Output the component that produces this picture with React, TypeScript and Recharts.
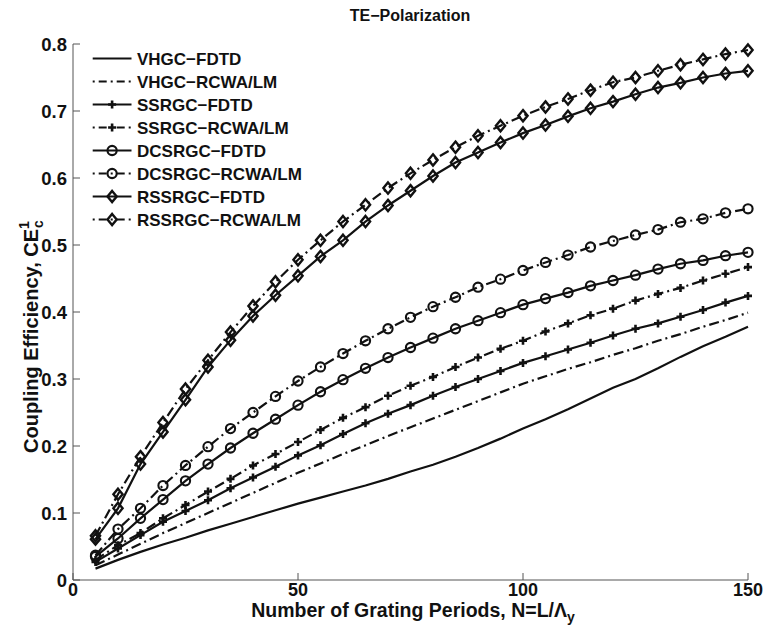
import React from 'react';
import { LineChart, Line, XAxis, YAxis } from 'recharts';

const periods = [5, 10, 15, 20, 25, 30, 35, 40, 45, 50, 55, 60, 65, 70, 75, 80, 85, 90, 95, 100, 105, 110, 115, 120, 125, 130, 135, 140, 145, 150];

const vhgcFdtd = [0.017, 0.030, 0.042, 0.053, 0.063, 0.074, 0.084, 0.094, 0.104, 0.114, 0.123, 0.132, 0.141, 0.151, 0.162, 0.172, 0.184, 0.197, 0.211, 0.226, 0.240, 0.255, 0.271, 0.287, 0.300, 0.316, 0.333, 0.349, 0.363, 0.378];
const vhgcRcwa = [0.022, 0.038, 0.054, 0.070, 0.085, 0.100, 0.115, 0.130, 0.145, 0.160, 0.174, 0.188, 0.201, 0.215, 0.228, 0.241, 0.254, 0.267, 0.280, 0.293, 0.304, 0.315, 0.325, 0.336, 0.346, 0.357, 0.367, 0.378, 0.388, 0.399];
const ssrgcFdtd = [0.027, 0.047, 0.067, 0.087, 0.103, 0.119, 0.137, 0.153, 0.169, 0.186, 0.201, 0.218, 0.234, 0.248, 0.261, 0.275, 0.288, 0.300, 0.312, 0.324, 0.334, 0.344, 0.354, 0.365, 0.375, 0.383, 0.393, 0.403, 0.414, 0.424];
const ssrgcRcwa = [0.030, 0.052, 0.070, 0.092, 0.112, 0.132, 0.151, 0.171, 0.188, 0.206, 0.224, 0.242, 0.258, 0.275, 0.290, 0.303, 0.318, 0.332, 0.345, 0.357, 0.371, 0.383, 0.395, 0.405, 0.417, 0.427, 0.436, 0.447, 0.457, 0.467];
const dcsrgcFdtd = [0.035, 0.062, 0.092, 0.120, 0.148, 0.173, 0.197, 0.219, 0.240, 0.261, 0.281, 0.299, 0.316, 0.332, 0.347, 0.361, 0.375, 0.387, 0.399, 0.411, 0.420, 0.429, 0.439, 0.447, 0.455, 0.464, 0.472, 0.477, 0.484, 0.489];
const dcsrgcRcwa = [0.037, 0.076, 0.107, 0.141, 0.171, 0.199, 0.226, 0.250, 0.274, 0.297, 0.318, 0.338, 0.357, 0.375, 0.392, 0.408, 0.422, 0.437, 0.449, 0.462, 0.474, 0.485, 0.497, 0.506, 0.515, 0.523, 0.534, 0.539, 0.548, 0.554];
const rssrgcFdtd = [0.061, 0.107, 0.173, 0.221, 0.269, 0.318, 0.358, 0.394, 0.425, 0.454, 0.483, 0.507, 0.535, 0.559, 0.581, 0.603, 0.623, 0.638, 0.653, 0.667, 0.679, 0.692, 0.704, 0.714, 0.725, 0.735, 0.742, 0.750, 0.756, 0.760];
const rssrgcRcwa = [0.066, 0.128, 0.184, 0.235, 0.285, 0.328, 0.370, 0.409, 0.445, 0.478, 0.507, 0.535, 0.560, 0.585, 0.607, 0.627, 0.646, 0.663, 0.678, 0.693, 0.706, 0.718, 0.731, 0.743, 0.750, 0.760, 0.769, 0.777, 0.785, 0.791];

const xTicks = [0, 50, 100, 150];
const yTicks = [0, 0.1, 0.2, 0.3, 0.4, 0.5, 0.6, 0.7, 0.8];
const yTickLabels = ['0', '0.1', '0.2', '0.3', '0.4', '0.5', '0.6', '0.7', '0.8'];

const seriesNames = ['VHGC−FDTD', 'VHGC−RCWA/LM', 'SSRGC−FDTD', 'SSRGC−RCWA/LM', 'DCSRGC−FDTD', 'DCSRGC−RCWA/LM', 'RSSRGC−FDTD', 'RSSRGC−RCWA/LM'];
const seriesValues = [vhgcFdtd, vhgcRcwa, ssrgcFdtd, ssrgcRcwa, dcsrgcFdtd, dcsrgcRcwa, rssrgcFdtd, rssrgcRcwa];

const titleText = 'TE−Polarization';

const FONT = '"Liberation Sans", Arial, Helvetica, sans-serif';
const INK = '#111';
const AXIS = '#555';
const DASHDOT = '10 4 2 4';

type MarkerType = 'none' | 'plus' | 'circle' | 'diamond';
const seriesStyle: { dash?: string; marker: MarkerType }[] = [
  { marker: 'none' },
  { dash: DASHDOT, marker: 'none' },
  { marker: 'plus' },
  { dash: DASHDOT, marker: 'plus' },
  { marker: 'circle' },
  { dash: DASHDOT, marker: 'circle' },
  { marker: 'diamond' },
  { dash: DASHDOT, marker: 'diamond' },
];

const data = periods.map((n, i) => {
  const row: Record<string, number> = { n };
  seriesValues.forEach((arr, k) => {
    row['s' + k] = arr[i];
  });
  return row;
});

function Marker({ type, cx, cy }: { type: MarkerType; cx: number; cy: number }) {
  if (cx == null || cy == null || isNaN(cx) || isNaN(cy)) return null;
  if (type === 'plus')
    return <path d={`M${cx - 4},${cy}H${cx + 4}M${cx},${cy - 4}V${cy + 4}`} stroke={INK} strokeWidth={2.6} fill="none" />;
  if (type === 'circle')
    return <circle cx={cx} cy={cy} r={4.6} fill="none" stroke={INK} strokeWidth={2.1} />;
  if (type === 'diamond')
    return (
      <path
        d={`M${cx},${cy - 5.6}L${cx + 4.6},${cy}L${cx},${cy + 5.6}L${cx - 4.6},${cy}Z`}
        fill="none"
        stroke={INK}
        strokeWidth={2.4}
      />
    );
  return null;
}

const XTick = (p: any) => {
  const { x, y, payload } = p;
  return (
    <g>
      <line x1={x} x2={x} y1={y} y2={y - 7} stroke={AXIS} strokeWidth={1} />
      <text x={x} y={y + 16} textAnchor="middle" fontFamily={FONT} fontWeight="bold" fontSize={18} fill={INK}>
        {String(payload.value)}
      </text>
    </g>
  );
};

const YTick = (p: any) => {
  const { x, y, payload } = p;
  const idx = yTicks.indexOf(payload.value);
  return (
    <g>
      <line x1={x} x2={x + 7} y1={y} y2={y} stroke={AXIS} strokeWidth={1} />
      <text x={x - 6} y={y + 6.5} textAnchor="end" fontFamily={FONT} fontWeight="bold" fontSize={18.5} fill={INK}>
        {idx >= 0 ? yTickLabels[idx] : String(payload.value)}
      </text>
    </g>
  );
};

export default function App() {
  const legendX0 = 92.7;
  const legendX1 = 131.5;
  const legendTextX = 137;
  const legendY0 = 58.5;
  const legendStep = 23;
  return (
    <div style={{ position: 'absolute', left: 0, top: 0, width: 764, height: 636, background: '#fff' }}>
      <LineChart width={764} height={636} data={data} margin={{ top: 44, right: 16, left: 13, bottom: 26 }}>
        <XAxis
          dataKey="n"
          type="number"
          domain={[0, 150]}
          ticks={xTicks}
          height={30}
          tickSize={0}
          tickMargin={0}
          tickLine={false}
          axisLine={{ stroke: AXIS, strokeWidth: 1 }}
          tick={XTick}
          interval={0}
        />
        <YAxis
          type="number"
          domain={[0, 0.8]}
          ticks={yTicks}
          width={60}
          tickSize={0}
          tickMargin={0}
          tickLine={false}
          axisLine={{ stroke: AXIS, strokeWidth: 1 }}
          tick={YTick}
          interval={0}
        />
        {seriesStyle.map((s, k) => (
          <Line
            key={'s' + k}
            dataKey={'s' + k}
            name={seriesNames[k]}
            stroke={INK}
            strokeWidth={2.2}
            strokeDasharray={s.dash}
            isAnimationActive={false}
            activeDot={false}
            dot={
              s.marker === 'none'
                ? false
                : (p: any) => <Marker key={`m${k}-${p.index}`} type={s.marker} cx={p.cx} cy={p.cy} />
            }
          />
        ))}
      </LineChart>
      <svg
        width={764}
        height={636}
        style={{ position: 'absolute', left: 0, top: 0, pointerEvents: 'none' }}
      >
        <text x={410} y={21} textAnchor="middle" fontFamily={FONT} fontWeight="bold" fontSize={16} fill={INK}>
          {titleText}
        </text>
        <text x={413} y={617} textAnchor="middle" fontFamily={FONT} fontWeight="bold" fontSize={19.5} fill={INK}>
          Number of Grating Periods, N=L/Λ
          <tspan fontSize={14} dy={5}>y</tspan>
        </text>
        <g transform="translate(38,335) rotate(-90)">
          <text x={-118} y={0} textAnchor="start" fontFamily={FONT} fontWeight="bold" fontSize={20} fill={INK}>
            Coupling Efficiency, CE
            <tspan fontSize={14} dy={-9}>1</tspan>
            <tspan fontSize={14} dx={-7} dy={14}>c</tspan>
          </text>
        </g>
        {seriesNames.map((name, k) => {
          const y = legendY0 + k * legendStep;
          const s = seriesStyle[k];
          return (
            <g key={name}>
              <line x1={legendX0} x2={legendX1} y1={y} y2={y} stroke={INK} strokeWidth={2} strokeDasharray={s.dash ? '2 4 8 4' : undefined} />
              {s.marker !== 'none' && <Marker type={s.marker} cx={(legendX0 + legendX1) / 2} cy={y} />}
              <text x={legendTextX} y={y + 6} fontFamily={FONT} fontWeight="bold" fontSize={17} fill={INK}>
                {name}
              </text>
            </g>
          );
        })}
      </svg>
    </div>
  );
}
